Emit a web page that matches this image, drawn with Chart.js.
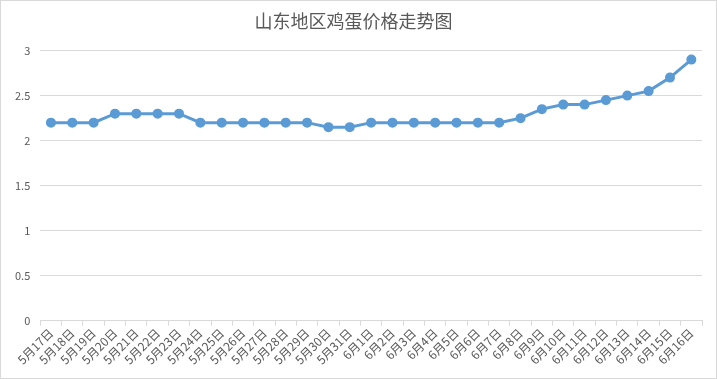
<!DOCTYPE html>
<html><head><meta charset="utf-8">
<script src="https://cdn.jsdelivr.net/npm/chart.js@4/dist/chart.umd.min.js"></script>
<style>
html,body{margin:0;padding:0;background:#fff;}
#wrap{position:relative;width:717px;height:379px;box-sizing:border-box;border:1px solid #d9d9d9;}
canvas{display:block;}
</style></head><body>
<div id="wrap"><canvas id="c" width="715" height="377"></canvas></div>
<script>
const categories = ["5月17日","5月18日","5月19日","5月20日","5月21日","5月22日","5月23日","5月24日","5月25日","5月26日","5月27日","5月28日","5月29日","5月30日","5月31日","6月1日","6月2日","6月3日","6月4日","6月5日","6月6日","6月7日","6月8日","6月9日","6月10日","6月11日","6月12日","6月13日","6月14日","6月15日","6月16日"];
const prices = [2.2,2.2,2.2,2.3,2.3,2.3,2.3,2.2,2.2,2.2,2.2,2.2,2.2,2.15,2.15,2.2,2.2,2.2,2.2,2.2,2.2,2.2,2.25,2.35,2.4,2.4,2.45,2.5,2.55,2.7,2.9];
const titleText = "山东地区鸡蛋价格走势图";
const FONT = "'Noto Sans CJK SC', 'Noto Sans', sans-serif";
new Chart(document.getElementById('c'), {
  type: 'line',
  data: { labels: categories, datasets: [{
    data: prices, borderColor: '#5b9bd5', backgroundColor: '#5b9bd5',
    borderWidth: 3, pointRadius: 3.5, pointHoverRadius: 3.5, pointBackgroundColor: '#5b9bd5', pointBorderColor: '#5b9bd5', tension: 0
  }]},
  options: {
    responsive: false, animation: false,
    layout: { padding: { left: 4, right: 14, top: 0, bottom: 11 } },
    plugins: {
      legend: { display: false }, tooltip: { enabled: false },
      title: { display: true, text: titleText, color: '#595959', font: { family: FONT, size: 18, weight: 'normal' }, padding: { top: 9, bottom: 19 } }
    },
    scales: {
      x: { offset: true,
        grid: { offset: true, drawOnChartArea: false, drawTicks: true, tickLength: 5, color: '#d9d9d9' },
        border: { color: '#d9d9d9' },
        ticks: { autoSkip: false, minRotation: 45, maxRotation: 45, color: '#595959', padding: 0, font: { family: FONT, size: 12 } } },
      y: { min: 0, max: 3,
        grid: { color: '#d9d9d9', drawTicks: false },
        border: { display: false },
        ticks: { stepSize: 0.5, color: '#595959', padding: 10, font: { family: FONT, size: 11 },
          callback: v => String(v) } }
    }
  }
});
</script></body></html>
